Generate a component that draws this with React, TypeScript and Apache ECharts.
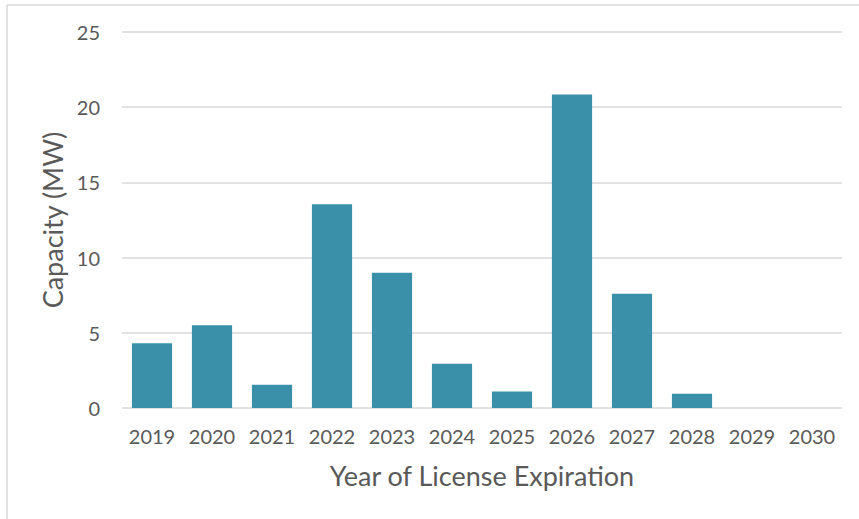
import React, { useEffect, useRef } from "react";
import * as echarts from "echarts";

const years = ["2019", "2020", "2021", "2022", "2023", "2024", "2025", "2026", "2027", "2028", "2029", "2030"];
const capacityMW = [4.3, 5.5, 1.55, 13.55, 9.0, 2.95, 1.1, 20.85, 7.6, 0.95, 0, 0];
const yTicks = { min: 0, max: 25, interval: 5 };

const FONT = "Lato, 'Open Sans', sans-serif";
const TEXT = "#595959";
const GRID = "#d9d9d9";
const BAR = "#3990a8";

export default function App() {
  const ref = useRef<HTMLDivElement>(null);
  useEffect(() => {
    if (!ref.current) return;
    const chart = echarts.init(ref.current, null, { renderer: "svg" });
    chart.setOption({
      animation: false,
      backgroundColor: "#ffffff",
      grid: { left: 122, right: 17, top: 32, bottom: 111, containLabel: false },
      xAxis: {
        type: "category",
        data: years,
        axisLine: { show: false },
        axisTick: { show: false },
        axisLabel: { color: TEXT, fontSize: 20, fontFamily: FONT, margin: 18, interval: 0 },
        name: "Year of License Expiration",
        nameLocation: "middle",
        nameGap: 54,
        nameTextStyle: { color: TEXT, fontSize: 27, fontFamily: FONT },
      },
      yAxis: {
        type: "value",
        min: yTicks.min,
        max: yTicks.max,
        interval: yTicks.interval,
        axisLine: { show: false },
        axisTick: { show: false },
        splitLine: { show: true, lineStyle: { color: GRID, width: 1.5 } },
        axisLabel: { color: TEXT, fontSize: 20, fontFamily: FONT, margin: 22 },
        name: "Capacity (MW)",
        nameLocation: "middle",
        nameGap: 56,
        nameTextStyle: { color: TEXT, fontSize: 27, fontFamily: FONT },
      },
      series: [
        {
          type: "bar",
          data: capacityMW,
          barCategoryGap: "33%",
          itemStyle: { color: BAR },
        },
      ],
      graphic: [
        { type: "line", shape: { x1: 7, y1: 5, x2: 859, y2: 5 }, style: { stroke: GRID, lineWidth: 1.5 } },
        { type: "line", shape: { x1: 7, y1: 5, x2: 7, y2: 519 }, style: { stroke: GRID, lineWidth: 1.5 } },
      ],
    });
    return () => chart.dispose();
  }, []);
  return (
    <div
      ref={ref}
      style={{ position: "fixed", left: 0, top: 0, width: 859, height: 519 }}
    />
  );
}
